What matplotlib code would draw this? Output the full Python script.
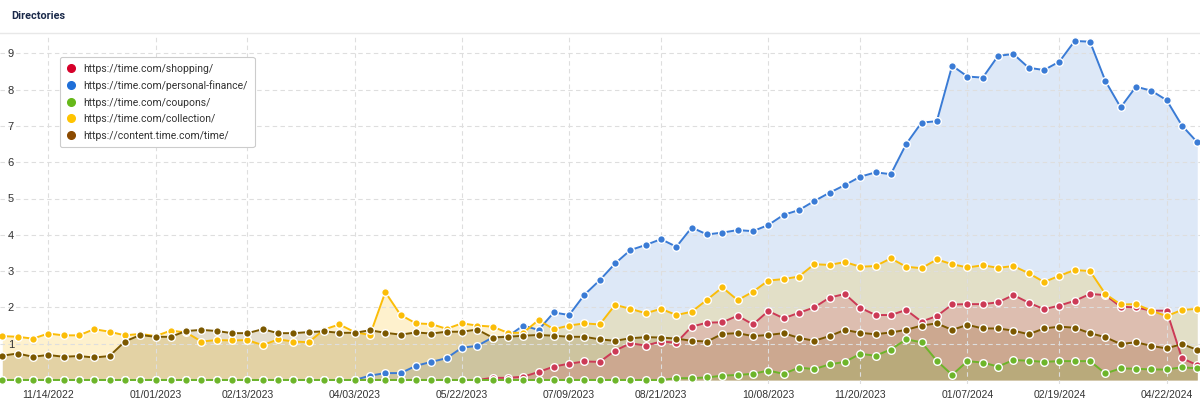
import numpy as np
import matplotlib
matplotlib.use("Agg")
import matplotlib.pyplot as plt
from matplotlib.lines import Line2D

plt.rcParams['font.family'] = ['Roboto', 'DejaVu Sans']

series_names = [
    "https://time.com/shopping/",
    "https://time.com/personal-finance/",
    "https://time.com/coupons/",
    "https://time.com/collection/",
    "https://content.time.com/time/",
]

# weekly values, one per point (79 points)
shopping = [0.0] * 32 + [
    0.06, 0.06, 0.09, 0.22, 0.37, 0.45, 0.51, 0.50, 0.81, 1.01,
    0.95, 1.06, 1.03, 1.47, 1.58, 1.59, 1.77, 1.53, 1.90, 1.70,
    1.85, 2.00, 2.27, 2.37, 1.99, 1.79, 1.79, 1.93, 1.61, 1.76,
    2.08, 2.09, 2.09, 2.14, 2.34, 2.13, 1.95, 2.05, 2.18, 2.37,
    2.34, 2.02, 2.00, 1.91, 1.91, 0.60, 0.41]

personal_finance = [0.0] * 24 + [
    0.12, 0.19, 0.19, 0.39, 0.50, 0.60, 0.89, 0.94, 1.17, 1.20,
    1.50, 1.38, 1.86, 1.79, 2.35, 2.75, 3.21, 3.58, 3.72, 3.88,
    3.67, 4.20, 4.01, 4.06, 4.13, 4.10, 4.27, 4.55, 4.68, 4.93,
    5.16, 5.37, 5.60, 5.72, 5.67, 6.50, 7.09, 7.13, 8.66, 8.36,
    8.33, 8.93, 8.98, 8.60, 8.54, 8.77, 9.34, 9.32, 8.24, 7.51,
    8.08, 7.97, 7.71, 7.01, 6.55]

coupons = [0.0] * 44 + [
    0.05, 0.05, 0.07, 0.12, 0.14, 0.17, 0.26, 0.17, 0.34, 0.30,
    0.43, 0.50, 0.72, 0.67, 0.84, 1.12, 1.04, 0.53, 0.14, 0.52,
    0.48, 0.37, 0.55, 0.53, 0.50, 0.52, 0.52, 0.52, 0.18, 0.32,
    0.31, 0.29, 0.29, 0.35, 0.32]

collection = [
    1.21, 1.19, 1.14, 1.28, 1.23, 1.23, 1.40, 1.33, 1.23, 1.27,
    1.21, 1.36, 1.31, 1.06, 1.10, 1.09, 1.10, 0.96, 1.12, 1.06,
    1.04, 1.39, 1.53, 1.32, 1.24, 2.42, 1.79, 1.56, 1.54, 1.41,
    1.56, 1.50, 1.47, 1.30, 1.30, 1.65, 1.40, 1.50, 1.56, 1.53,
    2.07, 1.96, 1.84, 1.96, 1.79, 1.88, 2.21, 2.55, 2.20, 2.43,
    2.74, 2.78, 2.85, 3.19, 3.17, 3.25, 3.12, 3.14, 3.35, 3.12,
    3.08, 3.32, 3.19, 3.10, 3.16, 3.09, 3.14, 2.94, 2.70, 2.87,
    3.03, 3.00, 2.37, 2.08, 2.09, 1.91, 1.76, 1.93, 1.96]

content_time = [
    0.67, 0.73, 0.64, 0.69, 0.64, 0.66, 0.62, 0.66, 1.06, 1.24,
    1.19, 1.19, 1.35, 1.38, 1.35, 1.29, 1.29, 1.40, 1.29, 1.29,
    1.32, 1.34, 1.30, 1.30, 1.37, 1.30, 1.25, 1.31, 1.28, 1.33,
    1.33, 1.39, 1.17, 1.19, 1.22, 1.24, 1.22, 1.19, 1.19, 1.12,
    1.08, 1.15, 1.18, 1.17, 1.14, 1.08, 1.06, 1.27, 1.29, 1.21,
    1.24, 1.29, 1.16, 1.08, 1.21, 1.38, 1.30, 1.26, 1.31, 1.38,
    1.50, 1.56, 1.38, 1.52, 1.42, 1.42, 1.36, 1.26, 1.42, 1.47,
    1.44, 1.29, 1.18, 0.99, 1.04, 0.94, 0.87, 0.99, 0.83]

tick_labels = ["11/14/2022", "01/01/2023", "02/13/2023", "04/03/2023",
               "05/22/2023", "07/09/2023", "08/21/2023", "10/08/2023",
               "11/20/2023", "01/07/2024", "02/19/2024", "04/22/2024"]
tick_index = [3, 10, 16, 23, 30, 37, 43, 50, 56, 63, 69, 76]

line_colors = ["#cc3a56", "#3a7bd5", "#6db52a", "#fbbd08", "#7b5800"]
legend_colors = ["#d6002a", "#1f6fd8", "#66b81a", "#ffc400", "#8b4a00"]
fill_alpha = [0.2, 0.17, 0.2, 0.2, 0.2]

data = [shopping, personal_finance, coupons, collection, content_time]
x = np.arange(len(collection))

W, H = 1200, 404
fig = plt.figure(figsize=(W / 100, H / 100), dpi=100)

# title + separator
fig.text(11 / W, 1 - 16 / H, "Directories", fontsize=7.8, fontweight="bold",
         color="#1b2a4a", va="center", ha="left")
fig.add_artist(Line2D([0, 1], [1 - 33 / H, 1 - 33 / H], color="#e8e8e8", lw=1))

ax = fig.add_axes([0, 20 / H, 1, (384 - 35) / H])
px = 15.32  # pixels per point
ax.set_xlim(-2.3 / px, (W - 2.3) / px)
ax.set_ylim(-4 / 36.3, 345 / 36.3)

# fills: personal-finance at the back
order = [1, 3, 4, 0, 2]
for k, i in enumerate(order):
    ax.fill_between(x, 0, data[i], color=line_colors[i], alpha=fill_alpha[i],
                    lw=0, zorder=1 + k * 0.1)
for i in range(5):
    ax.plot(x, data[i], color=line_colors[i], lw=1.4, marker="o", ms=5.5,
            mec="white", mew=1, zorder=3 + i * 0.1)

ax.set_yticks(range(1, 10))
ax.set_xticks(tick_index)
ax.set_xticklabels(tick_labels, family=["Liberation Sans", "DejaVu Sans"])
ax.set_yticklabels([str(v) for v in range(1, 10)],
                   family=["Liberation Sans", "DejaVu Sans"])
ax.tick_params(axis="y", length=0, pad=-10, labelsize=8, labelcolor="#333333")
ax.tick_params(axis="x", length=0, pad=4, labelsize=7.5, labelcolor="#333333")
for lab in ax.get_yticklabels():
    lab.set_horizontalalignment("right")
ax.grid(True, color="#dedede", ls=(0, (4, 3)), lw=0.8, zorder=0)
for s in ax.spines.values():
    s.set_visible(False)

handles = [Line2D([], [], ls="none", marker="o", ms=5.5, color=c) for c in legend_colors]
leg = ax.legend(handles, series_names, loc="upper left",
                bbox_to_anchor=(60 / W, 1 - (57 - 35) / (384 - 35)),
                borderaxespad=0, fontsize=7.5, frameon=True, fancybox=True,
                handlelength=0.8, handletextpad=0.8, labelspacing=0.62,
                borderpad=0.65, labelcolor="#333333", framealpha=1)
leg.get_frame().set_edgecolor("#cccccc")
leg.get_frame().set_linewidth(0.8)
leg.set_zorder(10)

fig.savefig("out.png", dpi=100)
